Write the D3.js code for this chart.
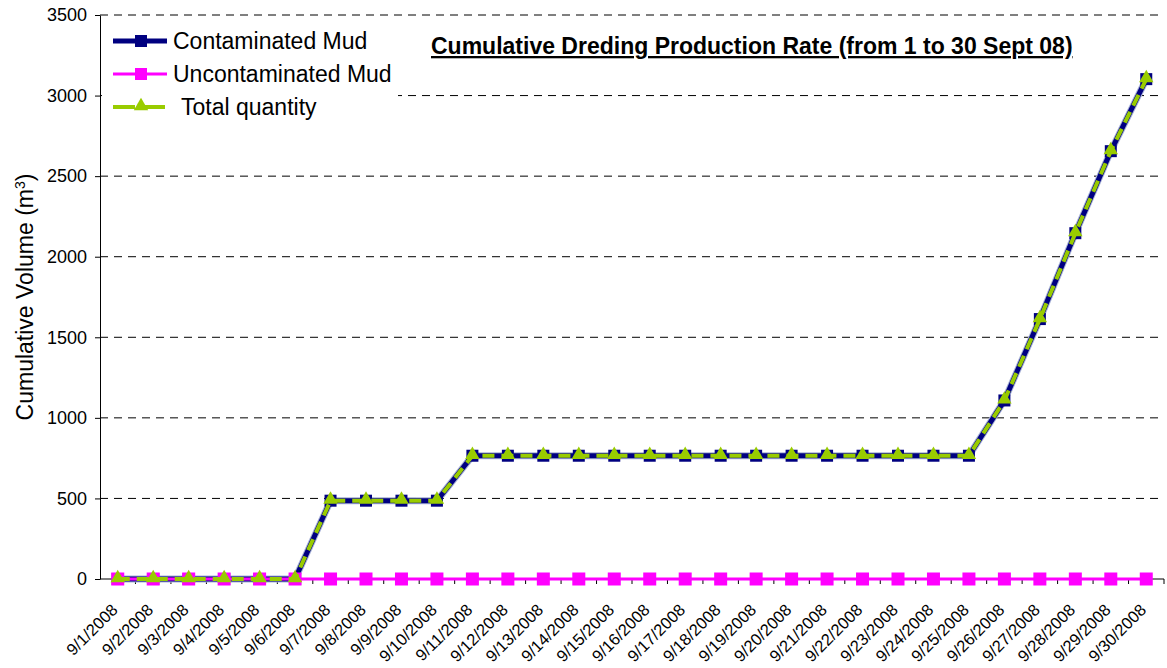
<!DOCTYPE html>
<html>
<head>
<meta charset="utf-8">
<script src="https://cdn.jsdelivr.net/npm/d3@7"></script>
<style>
  body { margin: 0; background: #fff; }
  text { font-family: "Liberation Sans", Arial, sans-serif; }
</style>
</head>
<body>
<div id="chart"></div>
<script>
// data
var dates = ["9/1/2008","9/2/2008","9/3/2008","9/4/2008","9/5/2008","9/6/2008","9/7/2008","9/8/2008",
  "9/9/2008","9/10/2008","9/11/2008","9/12/2008","9/13/2008","9/14/2008","9/15/2008","9/16/2008",
  "9/17/2008","9/18/2008","9/19/2008","9/20/2008","9/21/2008","9/22/2008","9/23/2008","9/24/2008",
  "9/25/2008","9/26/2008","9/27/2008","9/28/2008","9/29/2008","9/30/2008"];
var contaminated = [0,0,0,0,0,0,486,486,486,486,765,765,765,765,765,765,765,765,765,765,765,765,765,765,765,1108,1613,2146,2655,3102];
var uncontaminated = [0,0,0,0,0,0,0,0,0,0,0,0,0,0,0,0,0,0,0,0,0,0,0,0,0,0,0,0,0,0];
var total = [0,0,0,0,0,0,486,486,486,486,765,765,765,765,765,765,765,765,765,765,765,765,765,765,765,1108,1613,2146,2655,3102];
var yTicks = [0,500,1000,1500,2000,2500,3000,3500];

var margin = {top: 15, right: 3, bottom: 89, left: 100},
    width = 1167 - margin.left - margin.right,
    height = 668 - margin.top - margin.bottom;

var svg = d3.select("#chart").append("svg")
    .attr("width", 1167)
    .attr("height", 668)
    .append("g")
    .attr("transform", "translate(" + margin.left + "," + margin.top + ")");

var x = d3.scaleBand().domain(dates).range([0, width]);
var y = d3.scaleLinear().domain([0, 3500]).range([height, 0]);
var cx = function(d, i) { return x(dates[i]) + x.bandwidth() / 2; };

// gridlines
svg.selectAll(".grid").data(yTicks.slice(1)).enter().append("line")
    .attr("x1", 0).attr("x2", width)
    .attr("y1", function(d) { return y(d); }).attr("y2", function(d) { return y(d); })
    .style("stroke", "#000").style("stroke-width", 1).style("stroke-dasharray", "8,6");

// y axis
var yAxis = svg.append("g")
    .call(d3.axisLeft(y).tickValues(yTicks).tickSize(5).tickSizeOuter(0).tickFormat(d3.format("d")));
yAxis.select(".domain").style("stroke", "#000");
yAxis.selectAll("text").style("font-size", "18px").attr("dx", "-5").style("fill", "#000");

// x axis: ticks on band edges
var xAxis = svg.append("g").attr("transform", "translate(0," + height + ")");
xAxis.append("line").attr("x1", 0).attr("x2", width).attr("y1", 0).attr("y2", 0).style("stroke", "#000");
xAxis.selectAll(".tk").data(dates).enter().append("line")
    .attr("x1", function(d) { return x(d) + x.bandwidth(); })
    .attr("x2", function(d) { return x(d) + x.bandwidth(); })
    .attr("y1", 0).attr("y2", 5).style("stroke", "#000");
xAxis.selectAll(".lbl").data(dates).enter().append("text")
    .attr("transform", function(d) { return "translate(" + (x(d) + x.bandwidth() / 2 + 1) + ",32) rotate(-45)"; })
    .attr("text-anchor", "end")
    .style("font-size", "16.5px")
    .text(function(d) { return d; });

// y axis label
svg.append("text")
    .attr("transform", "translate(-67," + (height / 2) + ") rotate(-90)")
    .attr("text-anchor", "middle")
    .style("font-size", "23px")
    .html('Cumulative Volume (m<tspan baseline-shift="super" font-size="14px">3</tspan>)');

var line = function(vals) {
    return d3.line().x(cx).y(function(d) { return y(d); })(vals);
};

// contaminated mud
svg.append("path").attr("d", line(contaminated)).attr("fill", "none")
    .style("stroke", "#aab4d8").style("stroke-width", 7);
svg.append("path").attr("d", line(contaminated)).attr("fill", "none")
    .style("stroke", "#000080").style("stroke-width", 5);
svg.selectAll(".m1").data(contaminated).enter().append("rect")
    .attr("x", function(d, i) { return cx(d, i) - 6; })
    .attr("y", function(d) { return y(d) - 6; })
    .attr("width", 12).attr("height", 12).style("fill", "#000080");

// uncontaminated mud
svg.append("path").attr("d", line(uncontaminated)).attr("fill", "none")
    .style("stroke", "#ff00ff").style("stroke-width", 3);
svg.selectAll(".m2").data(uncontaminated).enter().append("rect")
    .attr("x", function(d, i) { return cx(d, i) - 6.5; })
    .attr("y", function(d) { return y(d) - 6.5; })
    .attr("width", 13).attr("height", 13).style("fill", "#ff00ff");

// total quantity
svg.append("path").attr("d", line(total)).attr("fill", "none")
    .style("stroke", "#99cc00").style("stroke-width", 4).style("stroke-dasharray", "12,7");
var tri = d3.symbol().type(d3.symbolTriangle).size(90);
svg.selectAll(".m3").data(total).enter().append("path")
    .attr("d", tri)
    .attr("transform", function(d, i) { return "translate(" + cx(d, i) + "," + (y(d) - 1) + ")"; })
    .style("fill", "#99cc00");

// title
svg.append("text")
    .attr("x", 331).attr("y", 39)
    .style("font-size", "23px").style("font-weight", "bold")
    .style("text-decoration", "underline")
    .text("Cumulative Dreding Production Rate (from 1 to 30 Sept 08)");

// legend
var lg = svg.append("g");
lg.append("rect").attr("x", 2).attr("y", 4).attr("width", 296).attr("height", 100).style("fill", "#fff");
var legendItems = ["Contaminated Mud", "Uncontaminated Mud", "Total quantity"];
var legendColors = ["#000080", "#ff00ff", "#99cc00"];
legendItems.forEach(function(name, i) {
    var ly = 26 + i * 33;
    var g = lg.append("g");
    if (i === 2) {
        g.append("line").attr("x1", 13).attr("x2", 67).attr("y1", ly).attr("y2", ly)
            .style("stroke", legendColors[i]).style("stroke-width", 4).style("stroke-dasharray", "22,8");
        g.append("path").attr("d", tri).attr("transform", "translate(41," + (ly - 1) + ")").style("fill", legendColors[i]);
    } else {
        g.append("line").attr("x1", 13).attr("x2", 67).attr("y1", ly).attr("y2", ly)
            .style("stroke", legendColors[i]).style("stroke-width", i === 0 ? 5 : 3);
        g.append("rect").attr("x", 35).attr("y", ly - 6).attr("width", 12).attr("height", 12).style("fill", legendColors[i]);
    }
    g.append("text").attr("x", i === 2 ? 81 : 73).attr("y", ly + 8)
        .style("font-size", "23px")
        .text(name);
});
</script>
</body>
</html>
